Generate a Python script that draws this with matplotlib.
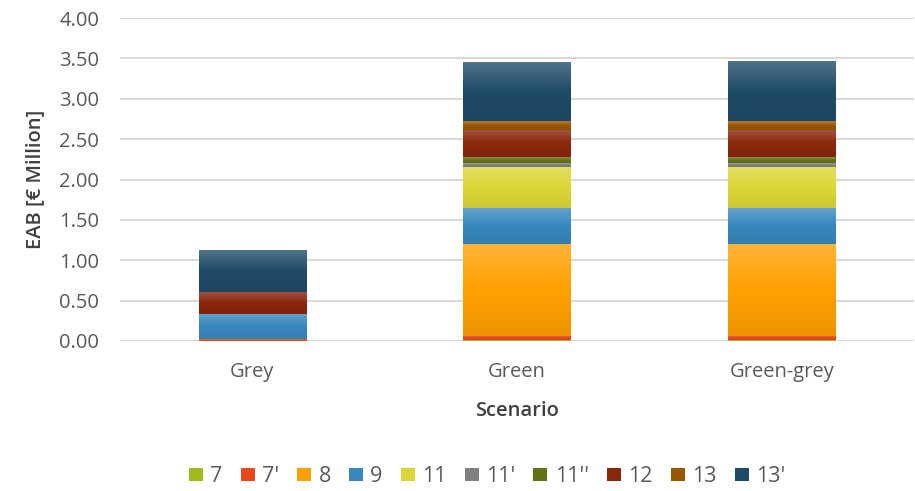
import numpy as np
import matplotlib
matplotlib.use("Agg")
import matplotlib.pyplot as plt
from matplotlib.colors import to_rgb
from matplotlib.patches import Patch

plt.rcParams['font.family'] = ['Open Sans', 'DejaVu Sans']

scenarios = ["Grey", "Green", "Green-grey"]
components = ["7", "7'", "8", "9", "11", "11'", "11''", "12", "13", "13'"]

v_7      = [0.000, 0.012, 0.012]
v_7p     = [0.020, 0.052, 0.052]
v_8      = [0.000, 1.140, 1.140]
v_9      = [0.310, 0.445, 0.445]
v_11     = [0.000, 0.505, 0.505]
v_11p    = [0.000, 0.045, 0.045]
v_11pp   = [0.000, 0.074, 0.074]
v_12     = [0.277, 0.345, 0.345]
v_13     = [0.000, 0.111, 0.111]
v_13p    = [0.517, 0.728, 0.740]

series = [v_7, v_7p, v_8, v_9, v_11, v_11p, v_11pp, v_12, v_13, v_13p]
colors = ["#A3B81C", "#E64A1C", "#FFA000", "#3788BE", "#DCD636",
          "#7F7F7F", "#627316", "#8A270C", "#985600", "#1E4B68"]

text_col = "#595959"
title_col = "#404040"
grid_col = "#D9D9D9"
fs = 14.5
legend_fs = 15.5

fig = plt.figure(figsize=(9.15, 4.91), dpi=100)
ax = fig.add_axes([120 / 915, 1 - 341 / 491, (914 - 120) / 915, (341 - 18) / 491])

x = np.arange(len(scenarios))
width = 0.405
bottom = np.zeros(len(scenarios))


def gradient_img(base):
    b = np.array(to_rgb(base))
    top = b + (1 - b) * 0.22
    low = b * 0.93
    t = np.linspace(0, 1, 64)[:, None]
    img = np.where(t < 0.5,
                   top + (b - top) * (t / 0.5),
                   b + (low - b) * ((t - 0.5) / 0.5))
    return img[:, None, :]


for vals, col in zip(series, colors):
    vals = np.array(vals)
    bars = ax.bar(x, vals, width, bottom=bottom, color=col, linewidth=0, zorder=2)
    for rect in bars:
        h = rect.get_height()
        if h <= 0:
            continue
        x0, y0 = rect.get_x(), rect.get_y()
        im = ax.imshow(gradient_img(col), extent=[x0, x0 + rect.get_width(), y0, y0 + h],
                       aspect='auto', interpolation='bilinear', zorder=3)
        im.set_clip_path(rect)
    bottom = bottom + vals

ax.set_xlim(-0.5, 2.5)
ax.set_ylim(0, 4.0)
ax.set_yticks(np.arange(0, 4.01, 0.5))
ax.set_yticklabels([f"{v:.2f}" for v in np.arange(0, 4.01, 0.5)])
ax.set_xticks(x)
ax.set_xticklabels(scenarios)
ax.yaxis.grid(True, color=grid_col, linewidth=1.5, zorder=0)
ax.set_axisbelow(True)
for s in ax.spines.values():
    s.set_visible(False)
ax.tick_params(axis='both', length=0, colors=text_col, labelsize=fs)
ax.tick_params(axis='y', pad=15)
ax.tick_params(axis='x', pad=15)

ax.set_ylabel("EAB [€ Million]", fontsize=fs, color=title_col, labelpad=10, fontweight='semibold')
ax.set_xlabel("Scenario", fontsize=fs, color=title_col, labelpad=14, fontweight='semibold')

handles = [Patch(facecolor=c, edgecolor='none') for c in colors]
fig.legend(handles, components, loc='center', bbox_to_anchor=(487 / 915, 1 - 477 / 491),
           ncol=10, frameon=False, fontsize=legend_fs, handlelength=0.65, handleheight=0.56,
           handletextpad=0.33, columnspacing=0.85, labelcolor=text_col)

fig.savefig("out.png", dpi=100, facecolor='white')
